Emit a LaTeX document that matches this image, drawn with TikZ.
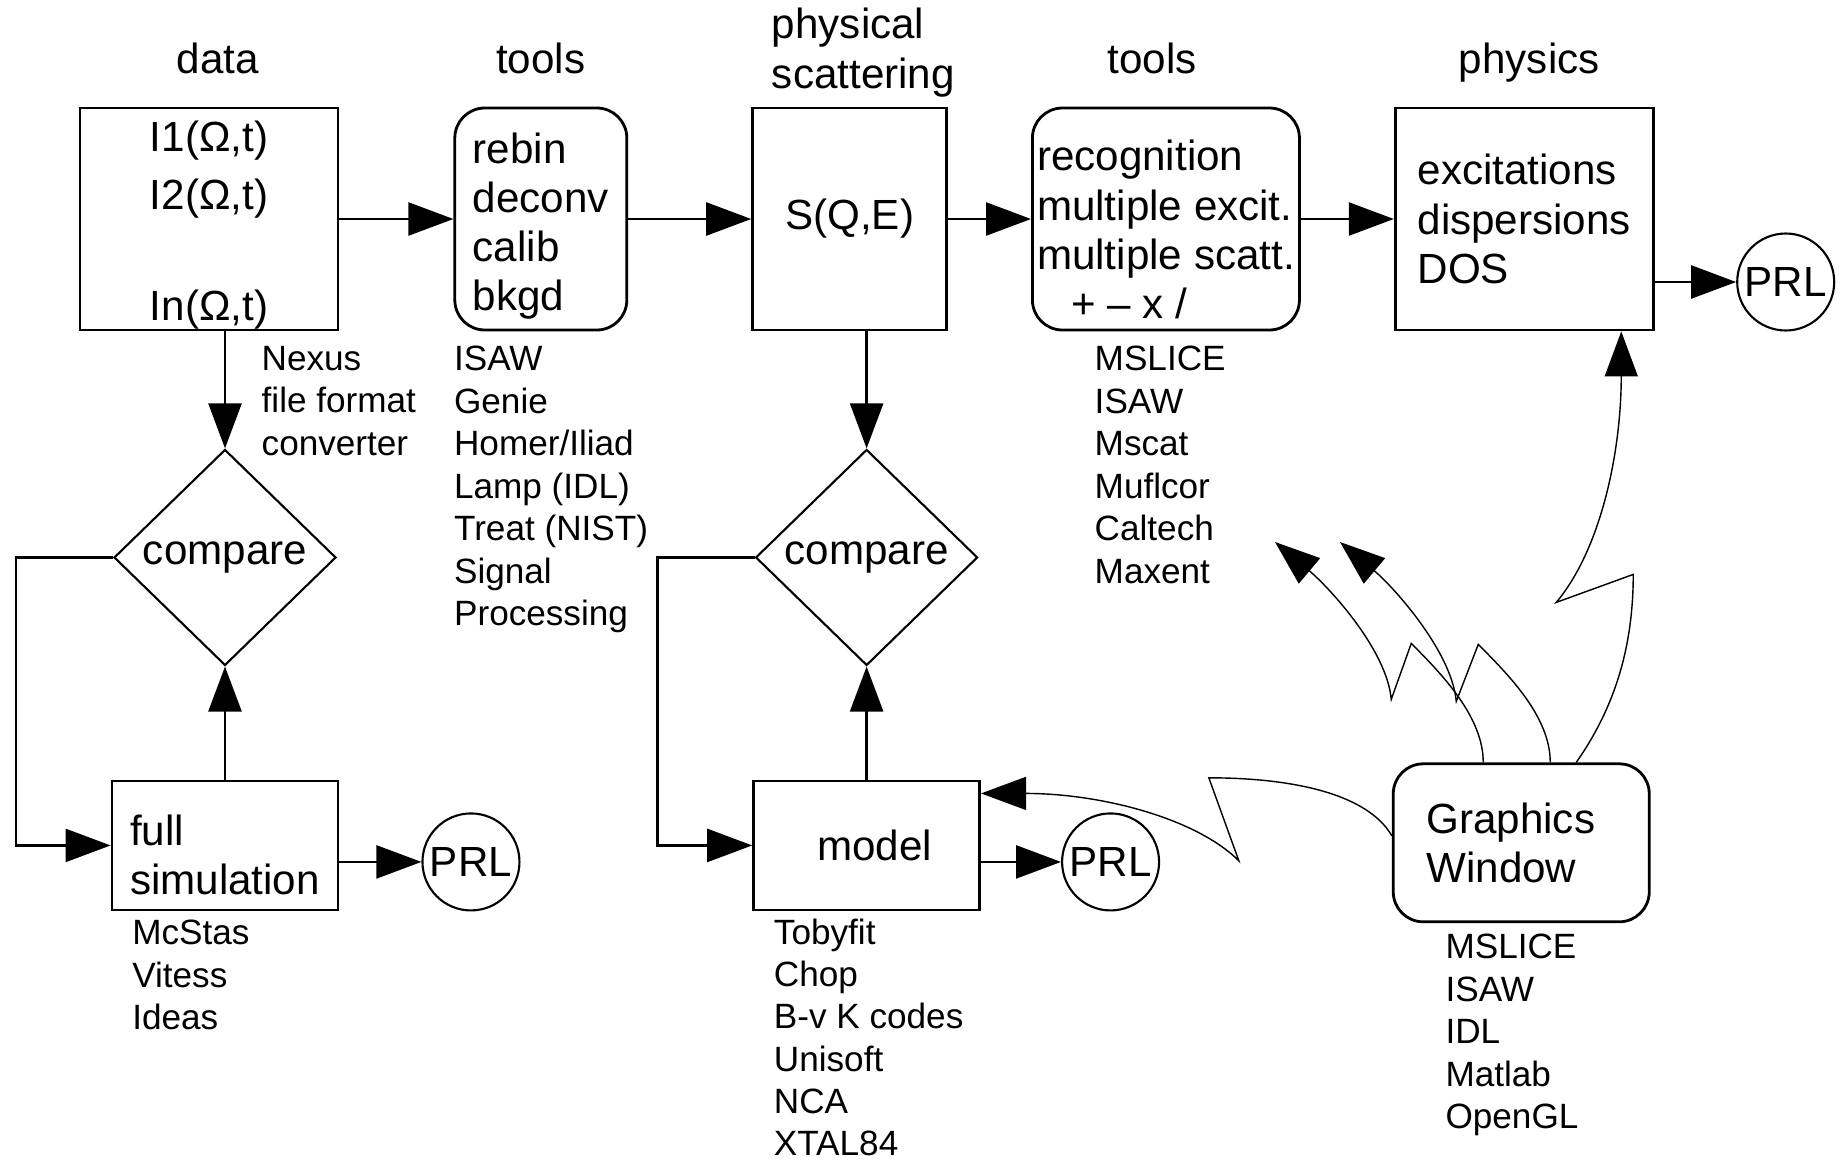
\documentclass[tikz,border=0pt]{standalone}
\usepackage{fontspec}
\setmainfont{Liberation Sans}
\usetikzlibrary{arrows.meta, positioning, shapes.geometric}

\begin{document}
\begin{tikzpicture}[
    every node/.style={font=\fontsize{12}{14}\selectfont},
    box/.style={rectangle, draw=black, line width=0.8pt, inner sep=0pt, align=left},
    rbox/.style={box, rounded corners=0.3cm},
    cmp/.style={diamond, draw=black, line width=0.6pt, inner sep=0pt, minimum width=2.22cm, minimum height=2.16cm},
    prl/.style={circle, draw=black, line width=0.6pt, inner sep=0pt, minimum size=0.97cm},
    hdr/.style={inner sep=0pt},
    lst/.style={inner sep=0pt, align=left, font=\fontsize{10}{12.1}\selectfont},
    arrow/.style={-{Triangle[length=4.5mm, width=3.3mm]}, line width=0.7pt},
    zarrow/.style={-{Triangle[length=4.5mm, width=3.3mm]}, line width=0.4pt}
]
\useasboundingbox (0,0) rectangle (18.41,-11.60);

% top row
\node[box, minimum width=2.58cm, minimum height=2.22cm] (data) at (2.09,-2.19) {\rule{0pt}{0.43cm}I1(Ω,t)\\[2.5pt]I2(Ω,t)\\[17.6pt]In(Ω,t)};
\node[rbox, minimum width=1.72cm, minimum height=2.22cm, right=1.14cm of data] (tools) {\rule{0pt}{0.45cm}rebin\\deconv\\calib\\bkgd};
\node[box, minimum width=1.94cm, minimum height=2.22cm, right=1.23cm of tools] (sqe) {S(Q,E)};
\node[rbox, minimum width=2.67cm, minimum height=2.22cm, right=0.83cm of sqe] (recog) {\rule{0pt}{0.52cm}recognition\\multiple excit.\\multiple scatt.\\\hspace*{0.34cm}+ – x /};
\node[box, minimum width=2.58cm, minimum height=2.22cm, right=0.93cm of recog] (physics) {excitations\\dispersions\\DOS};
\node[prl, right=0.815cm of physics, yshift=-0.63cm] (prl3) {PRL};

\node[hdr, above=0.33cm of data.north, anchor=base, xshift=0.09cm] (hdata) {data};
\node[hdr, above=0.33cm of tools.north, anchor=base] (htools) {tools};
\node[hdr, align=left, above right=0.09cm and 0.2cm of sqe.north west] (hsqe) {physical\\scattering};
\node[hdr, above=0.33cm of recog.north, anchor=base, xshift=-0.14cm] (hrecog) {tools};
\node[hdr, above=0.33cm of physics.north, anchor=base, xshift=0.05cm] (hphys) {physics};

% comparison loops
\node[cmp, below=1.17cm of data.south, xshift=0.16cm] (cmp1) {compare};
\node[box, minimum width=2.26cm, minimum height=1.29cm, below=1.13cm of cmp1] (fullsim) {\rule{0pt}{0.49cm}full\\simulation};
\node[prl, right=0.82cm of fullsim, yshift=-0.165cm] (prl1) {PRL};

\node[cmp, below=1.17cm of sqe.south, xshift=0.17cm] (cmp2) {compare};
\node[box, minimum width=2.26cm, minimum height=1.29cm, below=1.13cm of cmp2] (model) {\hspace*{0.16cm}model};
\node[prl, right=0.8cm of model, yshift=-0.165cm] (prl2) {PRL};

\node[rbox, minimum width=2.56cm, minimum height=1.58cm, below=4.31cm of physics, xshift=-0.03cm] (gfx) {Graphics\hspace*{0.21cm}\\Window};

% program lists
\node[lst, below right=0.14cm and 0.52cm of data.south] (nexus) {Nexus\\file format\\converter};
\node[lst, below=0.14cm of tools.south west, anchor=north west] (toolslist) {ISAW\\Genie\\Homer/Iliad\\Lamp (IDL)\\Treat (NIST)\\Signal\\Processing};
\node[lst, below right=0.14cm and 0.63cm of recog.south west] (recoglist) {MSLICE\\ISAW\\Mscat\\Muflcor\\Caltech\\Maxent};
\node[lst, below right=0.08cm and 0.21cm of fullsim.south west] (simlist) {McStas\\Vitess\\Ideas};
\node[lst, below right=0.07cm and 0.21cm of model.south west, font=\fontsize{10}{12}\selectfont] (modellist) {Tobyfit\\Chop\\B-v K codes\\Unisoft\\NCA\\XTAL84};
\node[lst, below right=0.10cm and 0.53cm of gfx.south west] (gfxlist) {MSLICE\\ISAW\\IDL\\Matlab\\OpenGL};

\draw[arrow] (data) -- (tools);
\draw[arrow] (tools) -- (sqe);
\draw[arrow] (sqe) -- (recog);
\draw[arrow] (recog) -- (physics);
\draw[arrow] (physics.east |- prl3) -- (prl3);

\draw[arrow] (data.south -| cmp1.north) -- (cmp1);
\draw[arrow] (fullsim) -- (cmp1);
\draw[arrow] (cmp1.west) -- ++(-0.97,0) |- (fullsim.west);
\draw[arrow] (fullsim.east |- prl1) -- (prl1);

\draw[arrow] (sqe.south -| cmp2.north) -- (cmp2);
\draw[arrow] (model) -- (cmp2);
\draw[arrow] (cmp2.west) -- ++(-0.97,0) |- (model.west);
\draw[arrow] (model.east |- prl2) -- (prl2);

% lightning arrows from the graphics window
\coordinate (tipB) at (12.75,-5.42);
\coordinate (tipC) at (13.40,-5.42);
\draw[zarrow] ([yshift=0.07cm]gfx.west) .. controls +(120:0.5) and +(0:0.8) .. ++(-1.83,0.58) -- ++(0.30,-0.83) .. controls +(135:0.6) and +(0:1.2) .. ([yshift=0.52cm]model.east);
\draw[zarrow] ([xshift=-0.38cm]gfx.north) .. controls +(90:0.45) and +(-45:0.45) .. ++(-0.72,1.19) -- ++(-0.20,-0.56) .. controls +(95:0.5) and +(-40:0.7) .. (tipB);
\draw[zarrow] ([xshift=0.29cm]gfx.north) .. controls +(90:0.45) and +(-45:0.45) .. ++(-0.72,1.18) -- ++(-0.22,-0.57) .. controls +(95:0.5) and +(-40:0.7) .. (tipC);
\draw[zarrow] ([xshift=0.55cm]gfx.north) .. controls +(55:0.6) and +(-90:0.8) .. ++(0.57,1.88) -- ++(-0.77,-0.28) .. controls +(50:0.7) and +(-90:1.2) .. ([xshift=0.97cm]physics.south);

\end{tikzpicture}
\end{document}
